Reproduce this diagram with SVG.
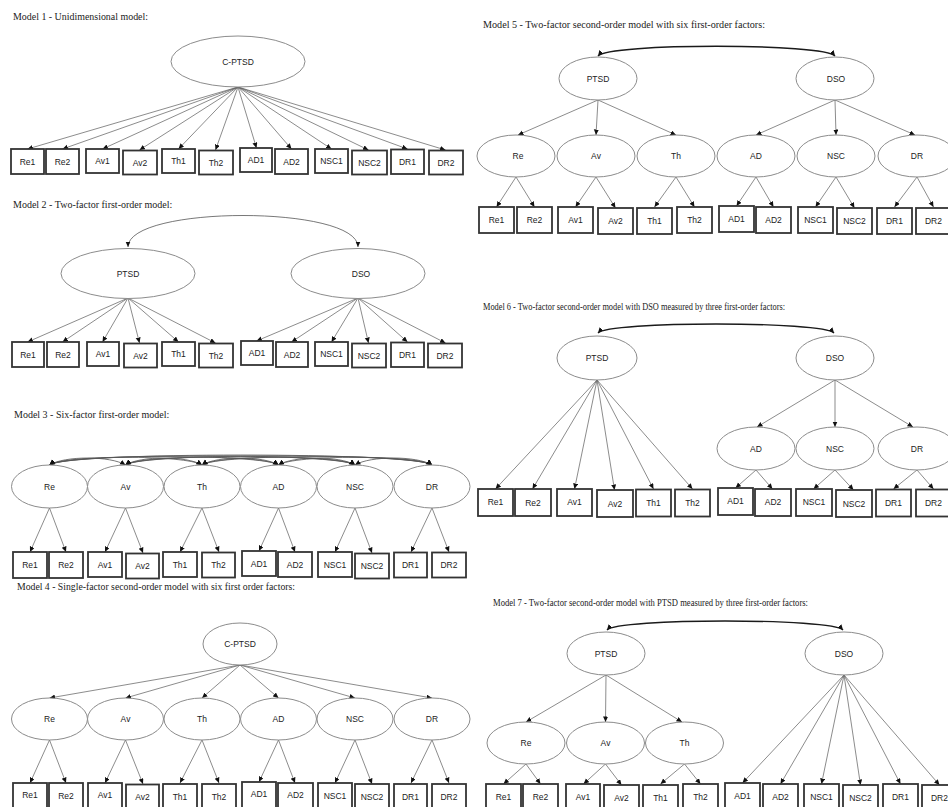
<svg xmlns="http://www.w3.org/2000/svg" width="948" height="807" viewBox="0 0 948 807">
<defs>
<marker id="ah" markerUnits="userSpaceOnUse" markerWidth="6" markerHeight="6" refX="5.5" refY="2.5" orient="auto-start-reverse"><path d="M0,0 L5.5,2.5 L0,5 z" fill="#111"/></marker>
<style>
.ttl{font-family:"Liberation Serif","Times New Roman",serif;font-size:10px;fill:#222}
.e{fill:#fff;stroke:#8c8c8c;stroke-width:1}
.b{fill:#fff;stroke:#333;stroke-width:1.8}
.t{font-family:"Liberation Sans",Arial,sans-serif;font-size:8.5px;fill:#222;text-anchor:middle}
.l{stroke:#5a5a5a;stroke-width:0.7;fill:none;marker-end:url(#ah)}
.c{stroke:#555;stroke-width:0.8;fill:none;marker-start:url(#ah);marker-end:url(#ah)}
.ck{stroke:#1a1a1a;stroke-width:1.4;fill:none;marker-start:url(#ah);marker-end:url(#ah)}
</style>
</defs>
<rect width="948" height="807" fill="#fff"/>

<!-- Titles -->
<g id="titles">
<text class="ttl" x="13" y="20" textLength="135" lengthAdjust="spacingAndGlyphs">Model 1 - Unidimensional model:</text>
<text class="ttl" x="13" y="208">Model 2 - Two-factor first-order model:</text>
<text class="ttl" x="14" y="418">Model 3 - Six-factor first-order model:</text>
<text class="ttl" x="17" y="590" textLength="278" lengthAdjust="spacingAndGlyphs">Model 4 - Single-factor second-order model with six first order factors:</text>
<text class="ttl" x="483" y="28" textLength="282" lengthAdjust="spacingAndGlyphs">Model 5 - Two-factor second-order model with six first-order factors:</text>
<text class="ttl" x="483" y="310" textLength="302" lengthAdjust="spacingAndGlyphs">Model 6 - Two-factor second-order model with DSO measured by three first-order factors:</text>
<text class="ttl" x="493" y="606" textLength="315" lengthAdjust="spacingAndGlyphs">Model 7 - Two-factor second-order model with PTSD measured by three first-order factors:</text>
</g>

<!-- Connectors -->
<g id="connectors">
<!-- Model 1 -->
<line class="l" x1="238" y1="87" x2="27.5" y2="149"/>
<line class="l" x1="238" y1="87" x2="62.5" y2="149"/>
<line class="l" x1="238" y1="87" x2="102.5" y2="149"/>
<line class="l" x1="238" y1="87" x2="139.5" y2="150"/>
<line class="l" x1="238" y1="87" x2="178.5" y2="149"/>
<line class="l" x1="238" y1="87" x2="215.5" y2="150"/>
<line class="l" x1="238" y1="87" x2="256.5" y2="148"/>
<line class="l" x1="238" y1="87" x2="291.5" y2="149"/>
<line class="l" x1="238" y1="87" x2="331.5" y2="149"/>
<line class="l" x1="238" y1="87" x2="368.5" y2="150"/>
<line class="l" x1="238" y1="87" x2="407.5" y2="149"/>
<line class="l" x1="238" y1="87" x2="445.5" y2="150"/>
<!-- Model 2 -->
<path class="c" d="M128,247 C128,205 358,205 358,247"/>
<line class="l" x1="128" y1="298" x2="27.5" y2="342"/>
<line class="l" x1="128" y1="298" x2="62.5" y2="342"/>
<line class="l" x1="128" y1="298" x2="102.5" y2="342"/>
<line class="l" x1="128" y1="298" x2="139.5" y2="343"/>
<line class="l" x1="128" y1="298" x2="178.5" y2="342"/>
<line class="l" x1="128" y1="298" x2="215.5" y2="343"/>
<line class="l" x1="358" y1="298" x2="256.5" y2="341"/>
<line class="l" x1="358" y1="298" x2="291.5" y2="342"/>
<line class="l" x1="358" y1="298" x2="331.5" y2="342"/>
<line class="l" x1="358" y1="298" x2="368.5" y2="343"/>
<line class="l" x1="358" y1="298" x2="407.5" y2="342"/>
<line class="l" x1="358" y1="298" x2="445.5" y2="343"/>
<!-- Model 3 covariances -->
<path class="c" d="M49.5,465 C64.5,455.7 110.5,455.7 125.5,465"/>
<path class="c" d="M49.5,465 C64.5,454.7 187,454.7 202,465"/>
<path class="c" d="M49.5,465 C64.5,453.7 263.5,453.7 278.5,465"/>
<path class="c" d="M49.5,465 C64.5,452.7 340,452.7 355,465"/>
<path class="c" d="M49.5,465 C64.5,451.7 417,451.7 432,465"/>
<path class="c" d="M125.5,465 C140.5,455.7 187,455.7 202,465"/>
<path class="c" d="M125.5,465 C140.5,454.7 263.5,454.7 278.5,465"/>
<path class="c" d="M125.5,465 C140.5,453.7 340,453.7 355,465"/>
<path class="c" d="M125.5,465 C140.5,452.7 417,452.7 432,465"/>
<path class="c" d="M202,465 C217,455.7 263.5,455.7 278.5,465"/>
<path class="c" d="M202,465 C217,454.7 340,454.7 355,465"/>
<path class="c" d="M202,465 C217,453.7 417,453.7 432,465"/>
<path class="c" d="M278.5,465 C293.5,455.7 340,455.7 355,465"/>
<path class="c" d="M278.5,465 C293.5,454.7 417,454.7 432,465"/>
<path class="c" d="M355,465 C370,455.7 417,455.7 432,465"/>
<!-- Model 3 loadings -->
<line class="l" x1="49.5" y1="508" x2="30" y2="552"/>
<line class="l" x1="49.5" y1="508" x2="66" y2="552"/>
<line class="l" x1="125.5" y1="508" x2="105" y2="552"/>
<line class="l" x1="125.5" y1="508" x2="143" y2="553"/>
<line class="l" x1="202" y1="508" x2="180" y2="552"/>
<line class="l" x1="202" y1="508" x2="219" y2="552"/>
<line class="l" x1="278.5" y1="508" x2="259" y2="551"/>
<line class="l" x1="278.5" y1="508" x2="295" y2="552"/>
<line class="l" x1="355" y1="508" x2="335" y2="552"/>
<line class="l" x1="355" y1="508" x2="372" y2="553"/>
<line class="l" x1="432" y1="508" x2="411" y2="552"/>
<line class="l" x1="432" y1="508" x2="449" y2="552"/>
<!-- Model 4 -->
<line class="l" x1="240" y1="665" x2="49.5" y2="698"/>
<line class="l" x1="240" y1="665" x2="125.5" y2="698"/>
<line class="l" x1="240" y1="665" x2="202" y2="698"/>
<line class="l" x1="240" y1="665" x2="278.5" y2="698"/>
<line class="l" x1="240" y1="665" x2="355" y2="698"/>
<line class="l" x1="240" y1="665" x2="432" y2="698"/>
<line class="l" x1="49.5" y1="740" x2="30" y2="783"/>
<line class="l" x1="49.5" y1="740" x2="66" y2="783"/>
<line class="l" x1="125.5" y1="740" x2="105" y2="783"/>
<line class="l" x1="125.5" y1="740" x2="143" y2="784"/>
<line class="l" x1="202" y1="740" x2="180" y2="783"/>
<line class="l" x1="202" y1="740" x2="219" y2="783"/>
<line class="l" x1="278.5" y1="740" x2="259" y2="782"/>
<line class="l" x1="278.5" y1="740" x2="295" y2="783"/>
<line class="l" x1="355" y1="740" x2="335" y2="783"/>
<line class="l" x1="355" y1="740" x2="372" y2="784"/>
<line class="l" x1="432" y1="740" x2="411" y2="783"/>
<line class="l" x1="432" y1="740" x2="449" y2="783"/>
<!-- Model 5 -->
<path class="ck" d="M598,56 C608,43 825,43 835,56"/>
<line class="l" x1="598" y1="100" x2="518" y2="135"/>
<line class="l" x1="598" y1="100" x2="596" y2="135"/>
<line class="l" x1="598" y1="100" x2="676" y2="135"/>
<line class="l" x1="835" y1="100" x2="756" y2="135"/>
<line class="l" x1="835" y1="100" x2="836" y2="135"/>
<line class="l" x1="835" y1="100" x2="915" y2="135"/>
<line class="l" x1="516" y1="177" x2="496.5" y2="207"/>
<line class="l" x1="516" y1="177" x2="534.5" y2="207"/>
<line class="l" x1="596" y1="177" x2="575.5" y2="207"/>
<line class="l" x1="596" y1="177" x2="615.5" y2="208"/>
<line class="l" x1="676" y1="177" x2="654.5" y2="207"/>
<line class="l" x1="676" y1="177" x2="694.5" y2="207"/>
<line class="l" x1="756" y1="177" x2="736.5" y2="206"/>
<line class="l" x1="756" y1="177" x2="773.5" y2="207"/>
<line class="l" x1="836" y1="177" x2="815.5" y2="207"/>
<line class="l" x1="836" y1="177" x2="854.5" y2="208"/>
<line class="l" x1="917" y1="177" x2="894.5" y2="207"/>
<line class="l" x1="917" y1="177" x2="933.5" y2="207"/>
<!-- Model 6 -->
<path class="ck" d="M598,333 C608,321 824,321 834,333"/>
<line class="l" x1="597" y1="380" x2="495.5" y2="489"/>
<line class="l" x1="597" y1="380" x2="532.5" y2="489"/>
<line class="l" x1="597" y1="380" x2="574.5" y2="489"/>
<line class="l" x1="597" y1="380" x2="614.5" y2="490"/>
<line class="l" x1="597" y1="380" x2="653.5" y2="489"/>
<line class="l" x1="597" y1="380" x2="692.5" y2="489"/>
<line class="l" x1="835" y1="380" x2="757" y2="427"/>
<line class="l" x1="835" y1="380" x2="835" y2="427"/>
<line class="l" x1="835" y1="380" x2="913" y2="427"/>
<line class="l" x1="756" y1="470" x2="735.5" y2="488"/>
<line class="l" x1="756" y1="470" x2="772.5" y2="489"/>
<line class="l" x1="835" y1="470" x2="813.5" y2="489"/>
<line class="l" x1="835" y1="470" x2="853.5" y2="490"/>
<line class="l" x1="917" y1="470" x2="893.5" y2="489"/>
<line class="l" x1="917" y1="470" x2="933.5" y2="489"/>
<!-- Model 7 -->
<path class="ck" d="M607,630 C617,618 833,618 843,630"/>
<line class="l" x1="606" y1="675" x2="526" y2="722"/>
<line class="l" x1="606" y1="675" x2="605.5" y2="722"/>
<line class="l" x1="606" y1="675" x2="682" y2="722"/>
<line class="l" x1="526" y1="764" x2="503.5" y2="784"/>
<line class="l" x1="526" y1="764" x2="540.5" y2="784"/>
<line class="l" x1="605.5" y1="764" x2="583.5" y2="784"/>
<line class="l" x1="605.5" y1="764" x2="621.5" y2="785"/>
<line class="l" x1="684.5" y1="764" x2="660.5" y2="784"/>
<line class="l" x1="684.5" y1="764" x2="700.5" y2="784"/>
<line class="l" x1="844" y1="675" x2="742.5" y2="783"/>
<line class="l" x1="844" y1="675" x2="780.5" y2="784"/>
<line class="l" x1="844" y1="675" x2="821.5" y2="784"/>
<line class="l" x1="844" y1="675" x2="860.5" y2="785"/>
<line class="l" x1="844" y1="675" x2="900.5" y2="784"/>
<line class="l" x1="844" y1="675" x2="939.5" y2="785"/>
</g>

<!-- Model 1 nodes -->
<g id="m1-cptsd"><ellipse class="e" cx="238" cy="61.5" rx="67" ry="25.5"/><text class="t" x="238" y="64.5">C-PTSD</text></g>
<g id="m1-re1"><rect class="b" x="11" y="149" width="33" height="25"/><text class="t" x="27.5" y="164.5">Re1</text></g>
<g id="m1-re2"><rect class="b" x="46" y="149" width="33" height="25"/><text class="t" x="62.5" y="164.5">Re2</text></g>
<g id="m1-av1"><rect class="b" x="86" y="149" width="33" height="24"/><text class="t" x="102.5" y="164">Av1</text></g>
<g id="m1-av2"><rect class="b" x="123" y="150.5" width="34" height="24"/><text class="t" x="140" y="166">Av2</text></g>
<g id="m1-th1"><rect class="b" x="162" y="149" width="33" height="24"/><text class="t" x="178.5" y="164">Th1</text></g>
<g id="m1-th2"><rect class="b" x="199" y="150.5" width="34" height="24"/><text class="t" x="216" y="166">Th2</text></g>
<g id="m1-ad1"><rect class="b" x="240" y="148" width="32" height="24"/><text class="t" x="256" y="163">AD1</text></g>
<g id="m1-ad2"><rect class="b" x="275" y="149" width="33" height="25"/><text class="t" x="291.5" y="164.5">AD2</text></g>
<g id="m1-nsc1"><rect class="b" x="315" y="149" width="33" height="24"/><text class="t" x="331.5" y="164">NSC1</text></g>
<g id="m1-nsc2"><rect class="b" x="352" y="150.5" width="35" height="24"/><text class="t" x="369.5" y="166">NSC2</text></g>
<g id="m1-dr1"><rect class="b" x="391" y="149.5" width="33" height="24.5"/><text class="t" x="407.5" y="165">DR1</text></g>
<g id="m1-dr2"><rect class="b" x="429" y="150.5" width="34" height="24"/><text class="t" x="446" y="166">DR2</text></g>

<!-- Model 2 nodes -->
<g id="m2-ptsd"><ellipse class="e" cx="128" cy="273.5" rx="67" ry="25"/><text class="t" x="128" y="276.5">PTSD</text></g>
<g id="m2-dso"><ellipse class="e" cx="358" cy="273.5" rx="67" ry="25"/><text class="t" x="361" y="276.5">DSO</text></g>
<g id="m2-re1"><rect class="b" x="12" y="342" width="32" height="25"/><text class="t" x="28" y="357.5">Re1</text></g>
<g id="m2-re2"><rect class="b" x="47" y="342" width="32" height="25"/><text class="t" x="63" y="357.5">Re2</text></g>
<g id="m2-av1"><rect class="b" x="87" y="342" width="32" height="24"/><text class="t" x="103" y="357">Av1</text></g>
<g id="m2-av2"><rect class="b" x="124" y="343.5" width="33" height="24"/><text class="t" x="140.5" y="359">Av2</text></g>
<g id="m2-th1"><rect class="b" x="162" y="342" width="33" height="24"/><text class="t" x="178.5" y="357">Th1</text></g>
<g id="m2-th2"><rect class="b" x="199" y="343.5" width="34" height="24"/><text class="t" x="216" y="359">Th2</text></g>
<g id="m2-ad1"><rect class="b" x="241" y="341" width="32" height="24"/><text class="t" x="257" y="356">AD1</text></g>
<g id="m2-ad2"><rect class="b" x="276" y="342" width="32" height="25"/><text class="t" x="292" y="357.5">AD2</text></g>
<g id="m2-nsc1"><rect class="b" x="315" y="342" width="33" height="24"/><text class="t" x="331.5" y="357">NSC1</text></g>
<g id="m2-nsc2"><rect class="b" x="352" y="343.5" width="34" height="24"/><text class="t" x="369" y="359">NSC2</text></g>
<g id="m2-dr1"><rect class="b" x="391" y="342.5" width="33" height="24.5"/><text class="t" x="407.5" y="358">DR1</text></g>
<g id="m2-dr2"><rect class="b" x="428" y="343.5" width="34" height="24"/><text class="t" x="445" y="359">DR2</text></g>

<!-- Model 3 nodes -->
<g id="m3-re"><ellipse class="e" cx="49.5" cy="486.5" rx="38" ry="21.5"/><text class="t" x="49.5" y="489.5">Re</text></g>
<g id="m3-av"><ellipse class="e" cx="125.5" cy="486.5" rx="38" ry="21.5"/><text class="t" x="125.5" y="489.5">Av</text></g>
<g id="m3-th"><ellipse class="e" cx="202" cy="486.5" rx="38" ry="21.5"/><text class="t" x="202" y="489.5">Th</text></g>
<g id="m3-ad"><ellipse class="e" cx="278.5" cy="486.5" rx="38" ry="21.5"/><text class="t" x="278.5" y="489.5">AD</text></g>
<g id="m3-nsc"><ellipse class="e" cx="355" cy="486.5" rx="38" ry="21.5"/><text class="t" x="355" y="489.5">NSC</text></g>
<g id="m3-dr"><ellipse class="e" cx="432" cy="486.5" rx="38" ry="21.5"/><text class="t" x="432" y="489.5">DR</text></g>
<g id="m3-re1"><rect class="b" x="13" y="552" width="34" height="26"/><text class="t" x="30" y="568">Re1</text></g>
<g id="m3-re2"><rect class="b" x="49" y="552" width="34" height="26"/><text class="t" x="66" y="568">Re2</text></g>
<g id="m3-av1"><rect class="b" x="88" y="552" width="34" height="25"/><text class="t" x="105" y="567.5">Av1</text></g>
<g id="m3-av2"><rect class="b" x="126" y="553.5" width="33" height="25"/><text class="t" x="142.5" y="569">Av2</text></g>
<g id="m3-th1"><rect class="b" x="163" y="552" width="34" height="25"/><text class="t" x="180" y="567.5">Th1</text></g>
<g id="m3-th2"><rect class="b" x="202" y="552.5" width="33" height="25"/><text class="t" x="218.5" y="568">Th2</text></g>
<g id="m3-ad1"><rect class="b" x="242" y="551" width="34" height="25"/><text class="t" x="259" y="566.5">AD1</text></g>
<g id="m3-ad2"><rect class="b" x="278" y="552" width="34" height="25"/><text class="t" x="295" y="567.5">AD2</text></g>
<g id="m3-nsc1"><rect class="b" x="318" y="552" width="34" height="25"/><text class="t" x="335" y="567.5">NSC1</text></g>
<g id="m3-nsc2"><rect class="b" x="355" y="553.5" width="34" height="25"/><text class="t" x="372" y="569">NSC2</text></g>
<g id="m3-dr1"><rect class="b" x="394" y="552.5" width="33" height="25"/><text class="t" x="410.5" y="568">DR1</text></g>
<g id="m3-dr2"><rect class="b" x="432" y="552.5" width="34" height="25"/><text class="t" x="449" y="568">DR2</text></g>

<!-- Model 4 nodes -->
<g id="m4-cptsd"><ellipse class="e" cx="240" cy="644" rx="37" ry="21"/><text class="t" x="240" y="647">C-PTSD</text></g>
<g id="m4-re"><ellipse class="e" cx="49.5" cy="719" rx="38" ry="21"/><text class="t" x="49.5" y="722">Re</text></g>
<g id="m4-av"><ellipse class="e" cx="125.5" cy="719" rx="38" ry="21"/><text class="t" x="125.5" y="722">Av</text></g>
<g id="m4-th"><ellipse class="e" cx="202" cy="719" rx="38" ry="21"/><text class="t" x="202" y="722">Th</text></g>
<g id="m4-ad"><ellipse class="e" cx="278.5" cy="719" rx="38" ry="21"/><text class="t" x="278.5" y="722">AD</text></g>
<g id="m4-nsc"><ellipse class="e" cx="355" cy="719" rx="38" ry="21"/><text class="t" x="355" y="722">NSC</text></g>
<g id="m4-dr"><ellipse class="e" cx="432" cy="719" rx="38" ry="21"/><text class="t" x="432" y="722">DR</text></g>
<g id="m4-re1"><rect class="b" x="13" y="783" width="34" height="26"/><text class="t" x="30" y="798">Re1</text></g>
<g id="m4-re2"><rect class="b" x="49" y="783" width="34" height="26"/><text class="t" x="66" y="799">Re2</text></g>
<g id="m4-av1"><rect class="b" x="88" y="783" width="34" height="26"/><text class="t" x="105" y="798">Av1</text></g>
<g id="m4-av2"><rect class="b" x="126" y="784.5" width="33" height="26"/><text class="t" x="142.5" y="800">Av2</text></g>
<g id="m4-th1"><rect class="b" x="163" y="784" width="34" height="26"/><text class="t" x="180" y="799.5">Th1</text></g>
<g id="m4-th2"><rect class="b" x="202" y="784" width="34" height="26"/><text class="t" x="219" y="799.5">Th2</text></g>
<g id="m4-ad1"><rect class="b" x="242" y="782" width="34" height="26"/><text class="t" x="259" y="797">AD1</text></g>
<g id="m4-ad2"><rect class="b" x="278" y="783" width="35" height="26"/><text class="t" x="295.5" y="798">AD2</text></g>
<g id="m4-nsc1"><rect class="b" x="318" y="783" width="34" height="26"/><text class="t" x="335" y="798.5">NSC1</text></g>
<g id="m4-nsc2"><rect class="b" x="355" y="784" width="34" height="26"/><text class="t" x="372" y="799.5">NSC2</text></g>
<g id="m4-dr1"><rect class="b" x="394" y="784" width="33" height="26"/><text class="t" x="410.5" y="799.5">DR1</text></g>
<g id="m4-dr2"><rect class="b" x="432" y="784" width="34" height="26"/><text class="t" x="449" y="799.5">DR2</text></g>

<!-- Model 5 nodes -->
<g id="m5-ptsd"><ellipse class="e" cx="598" cy="78.5" rx="39" ry="21.5"/><text class="t" x="598" y="81.5">PTSD</text></g>
<g id="m5-dso"><ellipse class="e" cx="835" cy="78.5" rx="39" ry="21.5"/><text class="t" x="836" y="81.5">DSO</text></g>
<g id="m5-re"><ellipse class="e" cx="516" cy="156" rx="39" ry="21"/><text class="t" x="518" y="159">Re</text></g>
<g id="m5-av"><ellipse class="e" cx="596" cy="156" rx="39" ry="21"/><text class="t" x="596" y="159">Av</text></g>
<g id="m5-th"><ellipse class="e" cx="676" cy="156" rx="39" ry="21"/><text class="t" x="676" y="159">Th</text></g>
<g id="m5-ad"><ellipse class="e" cx="756" cy="156" rx="39" ry="21"/><text class="t" x="756" y="159">AD</text></g>
<g id="m5-nsc"><ellipse class="e" cx="836" cy="156" rx="39" ry="21"/><text class="t" x="836" y="159">NSC</text></g>
<g id="m5-dr"><ellipse class="e" cx="917" cy="156" rx="39" ry="21"/><text class="t" x="917" y="159">DR</text></g>
<g id="m5-re1"><rect class="b" x="479" y="207" width="35" height="26"/><text class="t" x="496.5" y="223">Re1</text></g>
<g id="m5-re2"><rect class="b" x="517" y="207" width="35" height="26"/><text class="t" x="534.5" y="223">Re2</text></g>
<g id="m5-av1"><rect class="b" x="558" y="207" width="35" height="26"/><text class="t" x="575.5" y="223">Av1</text></g>
<g id="m5-av2"><rect class="b" x="598" y="208" width="35" height="26"/><text class="t" x="615.5" y="224">Av2</text></g>
<g id="m5-th1"><rect class="b" x="637" y="208" width="35" height="26"/><text class="t" x="654.5" y="224">Th1</text></g>
<g id="m5-th2"><rect class="b" x="677" y="207" width="35" height="26"/><text class="t" x="694.5" y="223">Th2</text></g>
<g id="m5-ad1"><rect class="b" x="719" y="206" width="35" height="26"/><text class="t" x="736.5" y="222">AD1</text></g>
<g id="m5-ad2"><rect class="b" x="756" y="207" width="35" height="26"/><text class="t" x="773.5" y="223">AD2</text></g>
<g id="m5-nsc1"><rect class="b" x="798" y="207" width="35" height="26"/><text class="t" x="815.5" y="223">NSC1</text></g>
<g id="m5-nsc2"><rect class="b" x="837" y="208" width="35" height="26"/><text class="t" x="854.5" y="224">NSC2</text></g>
<g id="m5-dr1"><rect class="b" x="877" y="208" width="35" height="26"/><text class="t" x="894.5" y="224">DR1</text></g>
<g id="m5-dr2"><rect class="b" x="916" y="208" width="35" height="26"/><text class="t" x="933.5" y="224">DR2</text></g>

<!-- Model 6 nodes -->
<g id="m6-ptsd"><ellipse class="e" cx="597" cy="358" rx="40" ry="22"/><text class="t" x="597" y="361">PTSD</text></g>
<g id="m6-dso"><ellipse class="e" cx="835" cy="358" rx="39" ry="22"/><text class="t" x="835" y="361">DSO</text></g>
<g id="m6-ad"><ellipse class="e" cx="756" cy="448.5" rx="39" ry="21.5"/><text class="t" x="756" y="451.5">AD</text></g>
<g id="m6-nsc"><ellipse class="e" cx="835" cy="448.5" rx="39" ry="21.5"/><text class="t" x="835" y="451.5">NSC</text></g>
<g id="m6-dr"><ellipse class="e" cx="917" cy="448.5" rx="39" ry="21.5"/><text class="t" x="917" y="451.5">DR</text></g>
<g id="m6-re1"><rect class="b" x="478" y="489" width="35" height="27"/><text class="t" x="495.5" y="505">Re1</text></g>
<g id="m6-re2"><rect class="b" x="515" y="489" width="36" height="27"/><text class="t" x="533" y="505.5">Re2</text></g>
<g id="m6-av1"><rect class="b" x="557" y="489" width="35" height="27"/><text class="t" x="574.5" y="505">Av1</text></g>
<g id="m6-av2"><rect class="b" x="597" y="490" width="36" height="27"/><text class="t" x="615" y="506.5">Av2</text></g>
<g id="m6-th1"><rect class="b" x="636" y="489.5" width="35" height="27"/><text class="t" x="653.5" y="506">Th1</text></g>
<g id="m6-th2"><rect class="b" x="675" y="489.5" width="35" height="27"/><text class="t" x="692.5" y="506">Th2</text></g>
<g id="m6-ad1"><rect class="b" x="718" y="488" width="35" height="27"/><text class="t" x="735.5" y="504">AD1</text></g>
<g id="m6-ad2"><rect class="b" x="755" y="489" width="36" height="27"/><text class="t" x="773" y="505">AD2</text></g>
<g id="m6-nsc1"><rect class="b" x="796" y="489" width="36" height="27"/><text class="t" x="814" y="505">NSC1</text></g>
<g id="m6-nsc2"><rect class="b" x="836" y="490" width="36" height="27"/><text class="t" x="854" y="506.5">NSC2</text></g>
<g id="m6-dr1"><rect class="b" x="876" y="489.5" width="35" height="27"/><text class="t" x="893.5" y="506">DR1</text></g>
<g id="m6-dr2"><rect class="b" x="916" y="489.5" width="35" height="27"/><text class="t" x="933.5" y="506">DR2</text></g>

<!-- Model 7 nodes -->
<g id="m7-ptsd"><ellipse class="e" cx="606" cy="653.5" rx="39" ry="21.5"/><text class="t" x="606" y="656.5">PTSD</text></g>
<g id="m7-dso"><ellipse class="e" cx="844" cy="653.5" rx="39" ry="21.5"/><text class="t" x="844" y="656.5">DSO</text></g>
<g id="m7-re"><ellipse class="e" cx="526" cy="743" rx="39" ry="21"/><text class="t" x="526" y="746">Re</text></g>
<g id="m7-av"><ellipse class="e" cx="605.5" cy="743" rx="39" ry="21"/><text class="t" x="605.5" y="746">Av</text></g>
<g id="m7-th"><ellipse class="e" cx="684.5" cy="743" rx="39" ry="21"/><text class="t" x="684.5" y="746">Th</text></g>
<g id="m7-re1"><rect class="b" x="486" y="784" width="35" height="27"/><text class="t" x="503.5" y="800">Re1</text></g>
<g id="m7-re2"><rect class="b" x="523" y="784" width="35" height="27"/><text class="t" x="540.5" y="800">Re2</text></g>
<g id="m7-av1"><rect class="b" x="566" y="784" width="34" height="27"/><text class="t" x="583" y="800">Av1</text></g>
<g id="m7-av2"><rect class="b" x="604" y="785" width="35" height="27"/><text class="t" x="621.5" y="801">Av2</text></g>
<g id="m7-th1"><rect class="b" x="643" y="785" width="35" height="27"/><text class="t" x="660.5" y="801">Th1</text></g>
<g id="m7-th2"><rect class="b" x="683" y="784" width="35" height="27"/><text class="t" x="700.5" y="800">Th2</text></g>
<g id="m7-ad1"><rect class="b" x="725" y="783" width="35" height="27"/><text class="t" x="742.5" y="799">AD1</text></g>
<g id="m7-ad2"><rect class="b" x="763" y="784" width="35" height="27"/><text class="t" x="780.5" y="800">AD2</text></g>
<g id="m7-nsc1"><rect class="b" x="804" y="784" width="35" height="27"/><text class="t" x="821.5" y="800">NSC1</text></g>
<g id="m7-nsc2"><rect class="b" x="843" y="785" width="35" height="27"/><text class="t" x="860.5" y="801">NSC2</text></g>
<g id="m7-dr1"><rect class="b" x="883" y="784" width="35" height="27"/><text class="t" x="900.5" y="800">DR1</text></g>
<g id="m7-dr2"><rect class="b" x="922" y="785" width="35" height="27"/><text class="t" x="939.5" y="801">DR2</text></g>
</svg>
